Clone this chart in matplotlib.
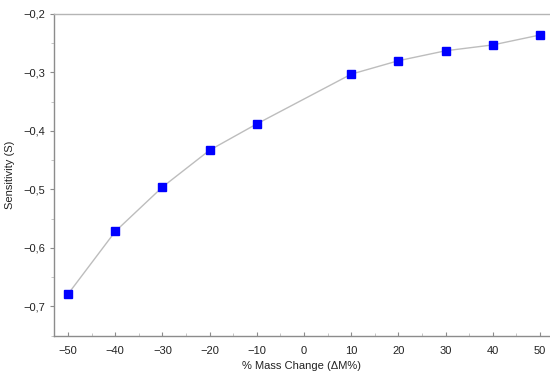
import matplotlib
matplotlib.use('Agg')
import matplotlib.pyplot as plt
from matplotlib.ticker import MultipleLocator, FuncFormatter

# data
mass_change = [-50, -40, -30, -20, -10, 10, 20, 30, 40, 50]
sensitivity = [-0.679, -0.572, -0.496, -0.433, -0.388, -0.303, -0.280, -0.263, -0.253, -0.236]

plt.rcParams['font.family'] = ['Liberation Sans', 'DejaVu Sans']

fig = plt.figure(figsize=(5.5, 3.76), dpi=100)
ax = fig.add_axes([0.098, 0.106, 0.902, 0.857])

ax.plot(mass_change, sensitivity, color='#bdbdbd', lw=1.0, zorder=1)
ax.plot(mass_change, sensitivity, ls='none', marker='s', ms=6,
        mfc='#0000ff', mec='#0000ff', zorder=2)

ax.set_xlim(-53, 52.1)
ax.set_ylim(-0.751, -0.2)

ax.xaxis.set_major_locator(MultipleLocator(10))
ax.xaxis.set_minor_locator(MultipleLocator(5))
ax.yaxis.set_major_locator(MultipleLocator(0.1))
ax.yaxis.set_minor_locator(MultipleLocator(0.05))

ax.xaxis.set_major_formatter(FuncFormatter(lambda v, p: '%d' % round(v) if round(v) >= 0 else '\u2212%d' % abs(round(v))))
ax.yaxis.set_major_formatter(FuncFormatter(lambda v, p: ('\u2212%.1f' % abs(v)).replace('.', ',')))

for s in ['left', 'bottom']:
    ax.spines[s].set_color('#8c8c8c')
    ax.spines[s].set_linewidth(1.0)
ax.spines['top'].set_color('#b5b5b5')
ax.spines['top'].set_linewidth(1.0)
ax.spines['right'].set_visible(False)

ax.tick_params(axis='both', which='major', labelsize=8, color='#8c8c8c', length=3, width=0.8, labelcolor='#222222')
ax.tick_params(axis='both', which='minor', color='#bbbbbb', length=2, width=0.6)
ax.tick_params(axis='x', which='both', direction='in')
ax.tick_params(axis='x', pad=7)

ax.set_xlabel('% Mass Change (\u0394M%)', fontsize=8, color='#222222', labelpad=4)
ax.set_ylabel('Sensitivity (S)', fontsize=8, color='#222222', labelpad=6)

fig.savefig('out.png', dpi=100)
